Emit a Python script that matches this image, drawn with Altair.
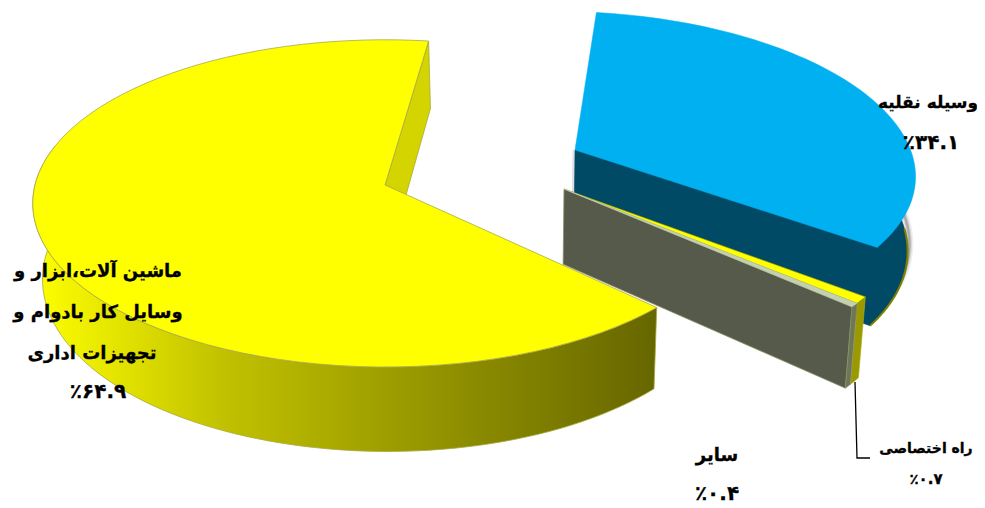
import math
import altair as alt
import pandas as pd

# ---- values
categories = ["وسیله نقلیه", "راه اختصاصی", "سایر", "ماشین آلات،ابزار و وسایل کار بادوام و تجهیزات اداری"]
shares = [34.1, 0.7, 0.4, 64.9]
share_labels = ["٪۳۴.۱", "٪۰.۷", "٪۰.۴", "٪۶۴.۹"]

# ---- layout of the perspective pie
W, H = 969, 497
OX, OY = 8, 8
CX, CY, A, B, K, C = 385, 185, 345, 164, 0.114, 75
XV, TAPER, R = 520, 0.02, 0.985
START = 4.6
ROT = [0.0, 0.8, 0.8, 3.0]
RU = [1.012, 1.0, 1.0, 1.03]
TRIM_FIRST = 3.0
TRIM_LAST = 1.0
APEX = [(575, 150), (564, 189), (564, 189), (385, 185)]

def world(px, py):
    dy, dx = py - CY, px - CX
    v = dy / (B + K * dy)
    return dx * (1 - K * v) / A, v

def proj(u, v, z=0.0):
    w = 1 - K * v
    sx = CX + A * u / w
    sy = CY + (B * v + C * z) / w
    return XV + (sx - XV) * (1 - TAPER * z), sy

def rim(i, deg, z=0.0):
    u0, v0 = world(*APEX[i])
    t = math.radians(deg)
    return proj(u0 + RU[i] * R * math.sin(t), v0 - R * math.cos(t), z)

def arc(i, a0, a1, z=0.0, n=80):
    return [rim(i, a0 + (a1 - a0) * j / n, z) for j in range(n + 1)]

def apex(i, z=0.0):
    return proj(*world(*APEX[i]), z)

spans, acc = [], START
for s, r in zip(shares, ROT):
    spans.append((acc + r, acc + r + s * 3.6))
    acc += s * 3.6
spans[0] = (spans[0][0] + TRIM_FIRST, spans[0][1] - TRIM_LAST)

x_s = alt.Scale(domain=[OX, OX + W], range=[0, W], nice=False, zero=False)
y_s = alt.Scale(domain=[OY, OY + H], range=[0, H], nice=False, zero=False)

def poly(pts, **mark):
    df = pd.DataFrame({"x": [p[0] for p in pts], "y": [p[1] for p in pts], "i": range(len(pts))})
    return alt.Chart(df).mark_line(interpolate="linear", **mark).encode(
        x=alt.X("x:Q", scale=x_s, axis=None),
        y=alt.Y("y:Q", scale=y_s, axis=None),
        order=alt.Order("i:Q"),
    )

def closed(pts):
    return list(pts) + [pts[0]]

def wall(i, a0, a1):
    return closed(arc(i, a0, a1) + arc(i, a1, a0, 1.0))

def cut(i, deg):
    return closed([apex(i), rim(i, deg), rim(i, deg, 1.0), apex(i, 1.0)])

def top(i):
    return closed([apex(i)] + arc(i, *spans[i]))

layers = []

# yellow slice
YEL = 3
a0, a1 = spans[YEL]
grad = alt.Gradient(gradient="linear", x1=0, x2=1, y1=0, y2=0, stops=[
    alt.GradientStop(offset=0, color="#FFFF00"),
    alt.GradientStop(offset=0.08, color="#EFEF00"),
    alt.GradientStop(offset=0.3, color="#C2C200"),
    alt.GradientStop(offset=0.7, color="#8C8C00"),
    alt.GradientStop(offset=1, color="#666600"),
])
layers.append(poly(wall(YEL, a0, a0 + 150), fill=grad, stroke="#A8A840", strokeWidth=0.8))
layers.append(poly(cut(YEL, a1), fill="#D4D400", stroke="#A8A83C", strokeWidth=0.8))
layers.append(poly(top(YEL), fill="#FFFF00", stroke="#A8A84C", strokeWidth=0.8))

# blue slice: soft shadow, one dark body, olive rim, top
BLU = 0
b0, b1 = spans[BLU]
for width, op in [(8, 0.06), (5, 0.1), (2.5, 0.2)]:
    layers.append(poly([(x + 1, y) for x, y in arc(BLU, 70, b1 - 12, 0.9)], stroke="black", strokeWidth=width, opacity=op))
layers.append(poly([apex(BLU), apex(BLU, 1.0)], stroke="black", strokeWidth=5, opacity=0.12))
layers.append(poly(closed([apex(BLU)] + arc(BLU, 85, 85) + arc(BLU, 85, b1, 1.0) + [apex(BLU, 1.0)]), fill="#004A66", stroke="#004A66", strokeWidth=0.5))
layers.append(poly(arc(BLU, 92, b1, 1.0), stroke="#808000", strokeWidth=2))
layers.append(poly(top(BLU), fill="#00B0F0", stroke="#00B0F0", strokeWidth=0.5))

# thin yellow slice
S1 = 1
c0, c1 = spans[S1]
layers.append(poly(wall(S1, c0, c1), fill="#9A9A00", stroke="#B0B020", strokeWidth=0.6))
layers.append(poly(top(S1), fill="#FFFF00", stroke="#909000", strokeWidth=0.6))

# thin grey slice
S2 = 2
d0, d1 = spans[S2]
layers.append(poly(cut(S2, d1), fill="#555A4A", stroke="#8C9464", strokeWidth=0.8))
layers.append(poly(wall(S2, d0, d1), fill="#6E7558", stroke="#8C9464", strokeWidth=0.6))
layers.append(poly(top(S2), fill="#C5D0B0", stroke="#C5D0B0", strokeWidth=0.6))

# leader line
layers.append(poly([(855, 382), (857, 458), (870, 458)], stroke="black", strokeWidth=1.3))

# labels
lines = ["ماشین آلات،ابزار و", "وسایل کار بادوام و", "تجهیزات اداری"]
texts = [
    (928, 103, categories[0], 17), (931, 143, share_labels[0], 20),
    (98, 272, lines[0], 18), (98, 313, lines[1], 18), (92, 354, lines[2], 18), (98, 392, share_labels[3], 20),
    (717, 456, categories[2], 18), (717, 494, share_labels[2], 20),
    (926, 449, categories[1], 14), (926, 479, share_labels[1], 15),
]
tdf = pd.DataFrame(texts, columns=["x", "y", "t", "s"])
for size, g in tdf.groupby("s"):
    layers.append(alt.Chart(g).mark_text(font="DejaVu Sans", fontWeight="bold", fontSize=int(size), color="black", stroke="black", strokeWidth=0.3).encode(
        x=alt.X("x:Q", scale=x_s, axis=None),
        y=alt.Y("y:Q", scale=y_s, axis=None),
        text="t:N",
    ))

chart = alt.layer(*layers).properties(width=W, height=H, padding=0, autosize=alt.AutoSizeParams(type="none")).configure_view(stroke=None)
chart.save("out.html", embed_options={"renderer": "svg", "actions": False})
